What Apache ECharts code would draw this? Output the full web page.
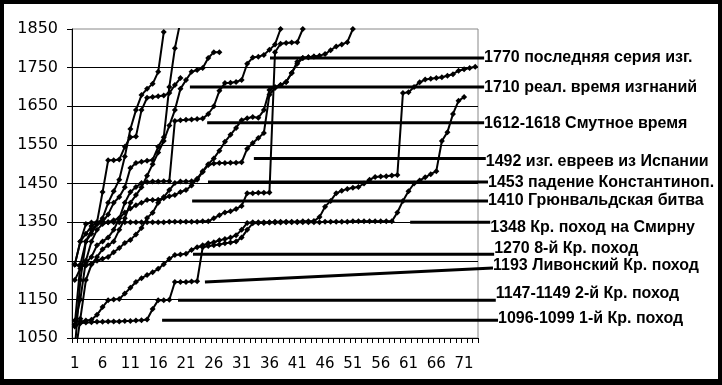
<!DOCTYPE html>
<html><head><meta charset="utf-8">
<script src="https://cdn.jsdelivr.net/npm/echarts@6/dist/echarts.min.js"></script>
<style>
html,body{margin:0;padding:0;background:#fff;}
#wrap{position:relative;width:722px;height:385px;}
#chart{width:722px;height:385px;}
#frame{position:absolute;left:0;top:0;width:722px;height:385px;box-sizing:border-box;border:4px solid #000;border-bottom-width:6px;pointer-events:none;}
</style></head>
<body><div id="wrap"><div id="chart"></div><div id="frame"></div></div>
<script>
const categories = [1,2,3,4,5,6,7,8,9,10,11,12,13,14,15,16,17,18,19,20,21,22,23,24,25,26,27,28,29,30,31,32,33,34,35,36,37,38,39,40,41,42,43,44,45,46,47,48,49,50,51,52,53,54,55,56,57,58,59,60,61,62,63,64,65,66,67,68,69,70,71,72,73];
const yTicks = [1050,1150,1250,1350,1450,1550,1650,1750,1850];

const s1 = [1080,1088,1090,1091,1092,1092,1093,1093,1093,1094, 1094,1095,1096,1098,1125,1148,1148,1149,1195,1195, 1195,1196,1197,1285,1288,1290,1292,1295,1297,1300, 1310,1330,1347,1348,1348,1349,1349,1349,1350,1350, 1350,1350,1350,1350,1350,1351,1351,1351,1351,1351, 1352,1352,1352,1352,1352,1352,1352,1352,1375,1405, 1430,1450,1458,1466,1474,1482,1560,1583,1630,1664, 1674];
const s2 = [1095,1093,1095,1097,1110,1130,1148,1150,1151,1165, 1180,1195,1205,1213,1220,1229,1241,1255,1265,1266, 1268,1278,1285,1290,1295,1298,1303,1306,1310,1316, 1330,1348,1350,1350,1350,1350,1351,1351,1351,1351, 1351,1352,1352,1353,1363,1390,1405,1425,1431,1436, 1439,1441,1450,1460,1467,1468,1469,1471,1472,1684, 1686,1700,1712,1719,1721,1723,1725,1729,1733,1742, 1746,1749,1752];
const s3 = [1240,1300,1345,1349,1350,1350,1350,1350,1350,1350, 1350,1350,1350,1350,1350,1350,1350,1351,1351,1351, 1351,1351,1351,1352,1352,1360,1368,1375,1378,1384, 1392,1425,1425,1426,1426,1427,1790,1812,1814,1815, 1816,1850,1880];
const s4 = [1200,1230,1245,1260,1290,1300,1310,1330,1360,1400, 1428,1441,1451,1454,1455,1455,1456,1456,1612,1614, 1615,1616,1617,1618,1630,1650,1690,1710,1711,1713, 1718,1760,1776,1778,1783,1796,1810,1850,1880];
const s5 = [1240,1235,1238,1242,1250,1255,1260,1272,1283,1296, 1304,1318,1335,1361,1374,1400,1415,1433,1451,1455, 1455,1456,1460,1480,1498,1502,1503,1503,1504,1504, 1505,1540,1555,1568,1581,1680,1697,1705,1713,1736, 1760,1775,1777,1779];
const s6 = [1085,1150,1250,1300,1330,1345,1350,1355,1360,1375, 1385,1394,1400,1407,1407,1408,1412,1417,1420,1428, 1433,1445,1462,1482,1500,1515,1535,1558,1576,1594, 1614,1619,1622,1620,1640,1692,1700,1705,1713,1736, 1765,1775,1777,1779,1781,1785,1795,1805,1810,1816, 1850,1880];
const s7 = [1240,1300,1320,1340,1350,1428,1510,1510,1512,1545, 1570,1572,1640,1672,1674,1676,1678,1684,1705,1723];
const s8 = [1020,1200,1300,1320,1345,1360,1400,1430,1460,1520, 1591,1640,1679,1695,1708,1739,1842];
const s9 = [1085,1240,1300,1330,1345,1350,1370,1400,1415,1440, 1490,1503,1506,1509,1511,1545,1570,1700,1800,1870];
const s10 = [1000,1100,1200,1240,1260,1280,1290,1300,1330,1360, 1400,1420,1440,1470,1500,1530,1560,1600,1640,1695, 1718,1739,1744,1749,1775,1790,1790];

const annoLabels = ['1770 последняя серия изг.','1710 реал. время изгнаний','1612-1618 Смутное время','1492 изг. евреев из Испании','1453 падение Константиноп.','1410 Грюнвальдская битва','1348 Кр. поход на Смирну','1270 8-й Кр. поход','1193 Ливонский Кр. поход','1147-1149 2-й Кр. поход','1096-1099 1-й Кр. поход'];
const annoStartX = [35.6,21.2,24.3,32.7,24.45,21.6,60.8,21.75,23.9,19.06,16.2];
const annoEndX = [74.1,74.1,74.1,74.4,74.8,74.8,75.2,75.9,75.7,76.2,76.6];
const annoStartY = [1775,1700,1607,1515,1454,1405,1350,1267,1195,1148,1096];
const annoEndY = [1775,1700,1607,1515,1454,1405,1350,1267,1231,1148,1096];
const labelDy = [0,1,1,3,1,0,5,-6,-2,-7,-2];

const dataSeries = [s1,s2,s3,s4,s5,s6,s7,s8,s9,s10];
const FONT = '"DejaVu Sans", Verdana, sans-serif';
const AFONT = '"Liberation Sans", Arial, sans-serif';

const series = dataSeries.map(function(d){
  return {type:'line', xAxisIndex:0, yAxisIndex:0, data:d, symbol:'diamond', symbolSize:6, showAllSymbol:true,
    lineStyle:{color:'#000',width:2}, itemStyle:{color:'#000'}, clip:true, silent:true, z:3};
});
annoLabels.forEach(function(t,i){
  series.push({type:'line', xAxisIndex:1, yAxisIndex:1, clip:false, silent:true, z:4,
    symbol:'none', lineStyle:{color:'#000',width:3},
    data:[[annoStartX[i],annoStartY[i]],[annoEndX[i],annoEndY[i]]],
    endLabel:{show:true, formatter:t, distance:0, offset:[0,labelDy[i]], color:'#000',
      fontFamily:AFONT, fontSize:16, fontWeight:'bold'}
  });
});

const chart = echarts.init(document.getElementById('chart'), null, {renderer:'canvas'});
chart.setOption({
  animation:false,
  backgroundColor:'#fff',
  grid:[
    {left:72, top:29, width:406, height:309, show:true, borderColor:'#888', borderWidth:1, backgroundColor:'transparent', outerBoundsMode:'none', containLabel:false},
    {left:72, top:29, width:428.25, height:309, outerBoundsMode:'none', containLabel:false}
  ],
  xAxis:[
    {type:'category', gridIndex:0, data:categories, boundaryGap:true,
     axisLine:{show:true, lineStyle:{color:'#000',width:1}},
     axisTick:{show:true, interval:0, length:5, lineStyle:{color:'#000'}},
     axisLabel:{interval:4, margin:19, color:'#000', fontFamily:FONT, fontSize:15},
     splitLine:{show:false}},
    {type:'value', gridIndex:1, min:0, max:77, show:false}
  ],
  yAxis:[
    {type:'value', gridIndex:0, min:1050, max:1850, interval:100,
     axisLine:{show:true, lineStyle:{color:'#000',width:1}},
     axisTick:{show:true, length:5, lineStyle:{color:'#000'}},
     axisLabel:{margin:14, color:'#000', fontFamily:FONT, fontSize:16,
       formatter:function(v){return yTicks.indexOf(v)>=0 ? String(v) : '';}},
     splitLine:{show:true, showMaxLine:false, lineStyle:{color:'#000',width:1}}},
    {type:'value', gridIndex:1, min:1050, max:1850, show:false}
  ],
  series:series
});
</script></body></html>
